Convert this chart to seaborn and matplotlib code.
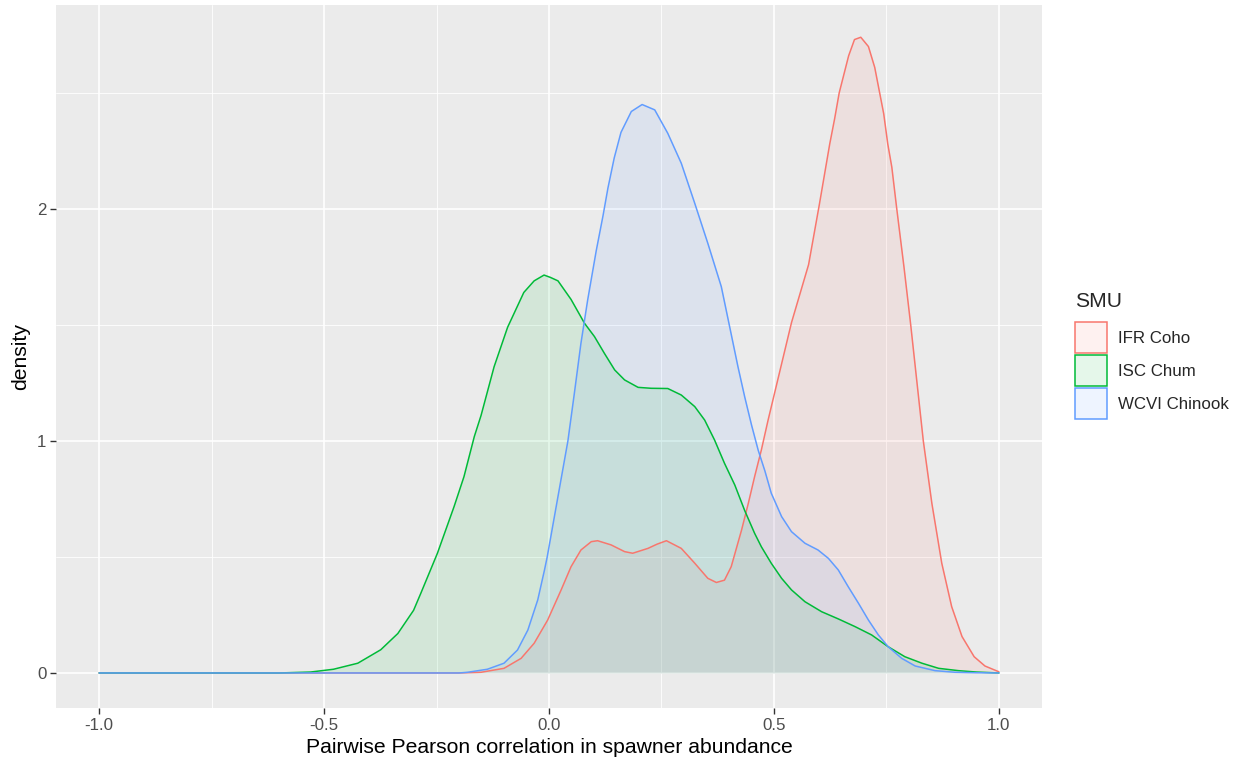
import numpy as np
import pandas as pd
import matplotlib
matplotlib.use("Agg")
import matplotlib.pyplot as plt
from matplotlib.patches import Patch
from matplotlib.ticker import MultipleLocator
import seaborn as sns

# ---------------------------------------------------------------------
# Density curves
# ---------------------------------------------------------------------
smu_names = ["IFR Coho", "ISC Chum", "WCVI Chinook"]
smu_colors = ["#F8766D", "#00BA38", "#619CFF"]

coho_x = [-1.0, -0.5, -0.2, -0.151, -0.100, -0.062, -0.033, -0.003, 0.027, 0.049,
          0.071, 0.094, 0.108, 0.138, 0.168, 0.186, 0.220, 0.240, 0.261, 0.294,
          0.324, 0.353, 0.372, 0.390, 0.405, 0.428, 0.443, 0.457, 0.472, 0.487,
          0.539, 0.577, 0.601, 0.624, 0.635, 0.645, 0.666, 0.679, 0.693, 0.710,
          0.724, 0.735, 0.744, 0.753, 0.762, 0.773, 0.789, 0.804, 0.818, 0.832,
          0.851, 0.873, 0.895, 0.918, 0.945, 0.969, 1.0]
coho_y = [0, 0, 0, 0.003, 0.020, 0.063, 0.128, 0.228, 0.358, 0.458,
          0.530, 0.566, 0.570, 0.552, 0.523, 0.516, 0.537, 0.555, 0.570, 0.537,
          0.473, 0.408, 0.39, 0.40, 0.458, 0.616, 0.731, 0.846, 0.961, 1.09,
          1.51, 1.76, 2.02, 2.28, 2.39, 2.50, 2.66, 2.73, 2.74, 2.70,
          2.61, 2.50, 2.41, 2.28, 2.18, 2.00, 1.75, 1.50, 1.25, 1.00,
          0.731, 0.473, 0.286, 0.157, 0.07, 0.03, 0.005]

chum_x = [-1.0, -0.6, -0.53, -0.479, -0.425, -0.374, -0.336, -0.301, -0.285, -0.248,
          -0.211, -0.189, -0.166, -0.151, -0.122, -0.092, -0.056, -0.033, -0.011, 0.003,
          0.020, 0.049, 0.079, 0.101, 0.123, 0.146, 0.168, 0.198, 0.227, 0.264,
          0.294, 0.324, 0.346, 0.368, 0.390, 0.413, 0.435, 0.457, 0.472, 0.494,
          0.517, 0.539, 0.569, 0.606, 0.643, 0.680, 0.717, 0.754, 0.791, 0.829,
          0.866, 0.910, 0.95, 1.0]
chum_y = [0, 0, 0.004, 0.016, 0.042, 0.10, 0.17, 0.27, 0.343, 0.516,
          0.717, 0.846, 1.019, 1.11, 1.32, 1.49, 1.64, 1.69, 1.715, 1.705,
          1.69, 1.61, 1.507, 1.45, 1.378, 1.306, 1.263, 1.231, 1.227, 1.226,
          1.198, 1.148, 1.09, 1.004, 0.904, 0.81, 0.70, 0.602, 0.544, 0.473,
          0.408, 0.358, 0.307, 0.264, 0.233, 0.200, 0.164, 0.113, 0.070, 0.042,
          0.020, 0.010, 0.004, 0.0]

chinook_x = [-1.0, -0.5, -0.2, -0.181, -0.137, -0.100, -0.070, -0.047, -0.025, -0.010,
             -0.004, 0.019, 0.042, 0.056, 0.071, 0.086, 0.105, 0.120, 0.131, 0.145,
             0.160, 0.183, 0.207, 0.235, 0.264, 0.294, 0.324, 0.353, 0.383, 0.405,
             0.420, 0.435, 0.450, 0.465, 0.480, 0.494, 0.517, 0.539, 0.569, 0.598,
             0.621, 0.643, 0.665, 0.688, 0.710, 0.732, 0.754, 0.784, 0.814, 0.858,
             0.903, 0.95, 1.0]
chinook_y = [0, 0, 0, 0.003, 0.016, 0.042, 0.099, 0.185, 0.315, 0.444,
             0.50, 0.75, 1.0, 1.2, 1.421, 1.608, 1.82, 1.97, 2.09, 2.22,
             2.33, 2.42, 2.45, 2.427, 2.326, 2.197, 2.024, 1.852, 1.665, 1.46,
             1.32, 1.19, 1.07, 0.96, 0.87, 0.775, 0.674, 0.609, 0.559, 0.530,
             0.494, 0.444, 0.372, 0.300, 0.228, 0.164, 0.113, 0.063, 0.030, 0.010,
             0.003, 0.001, 0]

x_ticks = [-1.0, -0.5, 0.0, 0.5, 1.0]
x_tick_labels = ["-1.0", "-0.5", "0.0", "0.5", "1.0"]
y_ticks = [0, 1, 2]

df = pd.concat([
    pd.DataFrame({"x": coho_x, "density": coho_y, "SMU": smu_names[0]}),
    pd.DataFrame({"x": chum_x, "density": chum_y, "SMU": smu_names[1]}),
    pd.DataFrame({"x": chinook_x, "density": chinook_y, "SMU": smu_names[2]}),
], ignore_index=True)
palette = dict(zip(smu_names, smu_colors))

# ---------------------------------------------------------------------
# Figure, ggplot-ish grey theme
# ---------------------------------------------------------------------
sns.set_theme(style="darkgrid", rc={"axes.facecolor": "#EBEBEB"})
plt.rcParams["font.family"] = ["Liberation Sans", "DejaVu Sans"]

fig = plt.figure(figsize=(12.38, 7.59), dpi=100)
ax = fig.add_axes([56 / 1238, 1 - 708 / 759, (1042 - 56) / 1238, (708 - 5) / 759])

for name in smu_names:
    sub = df[df.SMU == name]
    ax.fill_between(sub.x, sub.density, color=palette[name], alpha=0.1, lw=0, zorder=2)

sns.lineplot(data=df, x="x", y="density", hue="SMU", palette=palette,
             estimator=None, sort=False, lw=1.1, legend=False, ax=ax, zorder=3)

ax.set_xlim(-1.0958, 1.0958)
ax.set_ylim(-0.151, 2.879)
ax.set_xticks(x_ticks)
ax.set_xticklabels(x_tick_labels)
ax.set_yticks(y_ticks)
ax.xaxis.set_minor_locator(MultipleLocator(0.25))
ax.yaxis.set_minor_locator(MultipleLocator(0.5))
ax.grid(which="major", color="white", lw=1.2)
ax.grid(which="minor", color="white", lw=0.6)
ax.set_axisbelow(True)
for s in ax.spines.values():
    s.set_visible(False)
ax.tick_params(axis="both", which="major", length=4, width=1, color="#333333",
               labelsize=12.2, labelcolor="#4D4D4D", pad=3, bottom=True, left=True)
ax.tick_params(axis="both", which="minor", length=0)

ax.set_xlabel("Pairwise Pearson correlation in spawner abundance", fontsize=15.2,
              color="black", labelpad=4)
ax.set_ylabel("density", fontsize=15.2, color="black", labelpad=5)

handles = [Patch(facecolor=matplotlib.colors.to_rgba(c, 0.1), edgecolor=c, lw=1.1)
           for c in smu_colors]
leg = ax.legend(handles, smu_names, title="SMU", loc="upper left",
                bbox_to_anchor=(1075 / 1238, 1 - 292 / 759), bbox_transform=fig.transFigure,
                frameon=False, fontsize=12.2, title_fontsize=15.2,
                handlelength=1.9, handleheight=2.44, handletextpad=0.65,
                labelspacing=0.12, borderpad=0, borderaxespad=0, alignment="left")
# a bit more room between the legend title and the keys, like ggplot
leg._legend_box.sep = 8

fig.savefig("out.png", dpi=100, facecolor="white")
